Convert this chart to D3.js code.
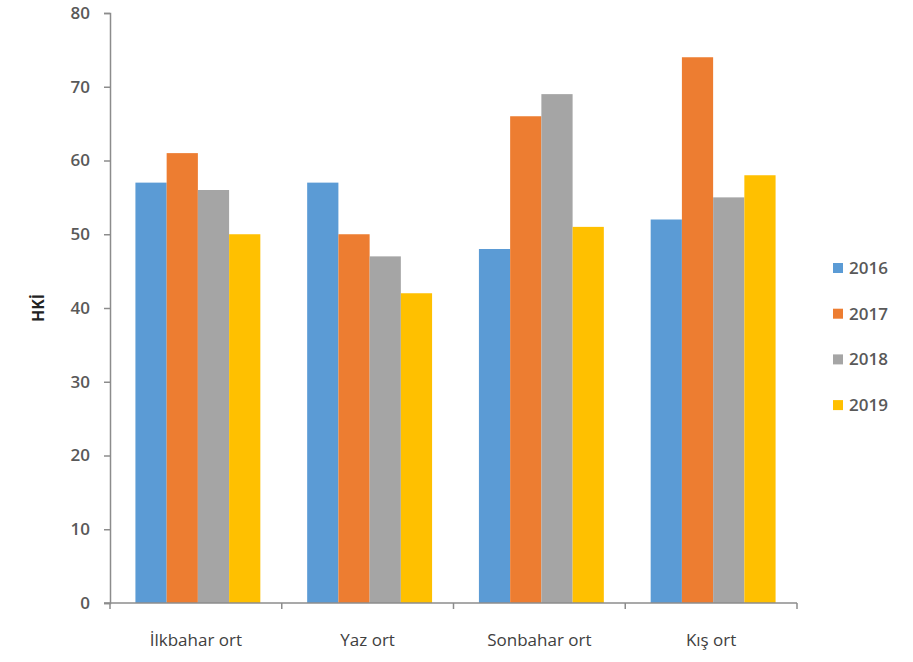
<!DOCTYPE html>
<html><head><meta charset="utf-8">
<script src="https://cdn.jsdelivr.net/npm/d3@7"></script>
<style>body{margin:0;background:#fff}svg{display:block}</style>
</head><body>
<script>
const categories = ["İlkbahar ort", "Yaz ort", "Sonbahar ort", "Kış ort"];
const seriesNames = ["2016", "2017", "2018", "2019"];
const values2016 = [57, 57, 48, 52];
const values2017 = [61, 50, 66, 74];
const values2018 = [56, 47, 69, 55];
const values2019 = [50, 42, 51, 58];
const yTicks = [0, 10, 20, 30, 40, 50, 60, 70, 80];
const colors = ["#5B9BD5", "#ED7D31", "#A5A5A5", "#FFC000"];
const yTitle = "HKİ";

const series = [values2016, values2017, values2018, values2019];
const W = 913, H = 662;
const mLeft = 110, mRight = 797, mTop = 13, mBottom = 603;
const font = "'Open Sans', 'Noto Sans', sans-serif";

const svg = d3.select("body").append("svg").attr("width", W).attr("height", H);

const y = d3.scaleLinear().domain([0, 80]).range([mBottom, mTop]);
const x0 = d3.scaleBand().domain(categories).range([mLeft, mRight]).paddingInner(0).paddingOuter(0);
const x1 = d3.scaleBand().domain(seriesNames).range([0, x0.bandwidth()]).paddingInner(0).paddingOuter(0.75);

// bars
categories.forEach((c, ci) => {
  const g = svg.append("g").attr("transform", `translate(${x0(c) + 2},0)`);
  seriesNames.forEach((s, si) => {
    const v = series[si][ci];
    g.append("rect")
      .attr("x", x1(s)).attr("width", x1.bandwidth())
      .attr("y", y(v)).attr("height", y(0) - y(v))
      .attr("fill", colors[si]);
  });
});

// y axis
const yAxis = svg.append("g").attr("transform", `translate(${mLeft},0)`)
  .call(d3.axisLeft(y).tickValues(yTicks).tickSize(6).tickPadding(14));
yAxis.select(".domain").attr("stroke", "#8c8c8c").attr("stroke-width", 1.5);
yAxis.selectAll(".tick line").attr("stroke", "#8c8c8c").attr("stroke-width", 1.5);
yAxis.selectAll("text").attr("font-family", font).attr("font-size", 17).attr("font-weight", 600).attr("fill", "#595959");

// x axis
const xAxis = svg.append("g").attr("transform", `translate(0,${mBottom})`);
xAxis.append("line").attr("x1", mLeft - 6).attr("x2", mRight).attr("y1", 0).attr("y2", 0)
  .attr("stroke", "#8c8c8c").attr("stroke-width", 1.5);
const bounds = categories.map(c => x0(c)).concat([mRight]);
xAxis.selectAll(".xt").data(bounds).enter().append("line")
  .attr("x1", d => d).attr("x2", d => d).attr("y1", 0).attr("y2", 6)
  .attr("stroke", "#8c8c8c").attr("stroke-width", 1.5);
xAxis.selectAll(".xl").data(categories).enter().append("text")
  .attr("x", d => x0(d) + x0.bandwidth() / 2).attr("y", 43)
  .attr("text-anchor", "middle").attr("font-family", font).attr("font-size", 17)
  .attr("fill", "#404040").text(d => d);

// y title
svg.append("text").attr("transform", "translate(44,308) rotate(-90)")
  .attr("text-anchor", "middle").attr("font-family", font).attr("font-size", 16)
  .attr("font-weight", "bold").attr("fill", "#222").text(yTitle);

// legend
const leg = svg.append("g");
seriesNames.forEach((s, i) => {
  const cy = 268 + i * 45.7;
  leg.append("rect").attr("x", 833).attr("y", cy - 5).attr("width", 10).attr("height", 10).attr("fill", colors[i]);
  leg.append("text").attr("x", 849).attr("y", cy).attr("dy", "0.35em")
    .attr("font-family", font).attr("font-size", 17).attr("font-weight", 600).attr("fill", "#595959").text(s);
});
</script>
</body></html>
